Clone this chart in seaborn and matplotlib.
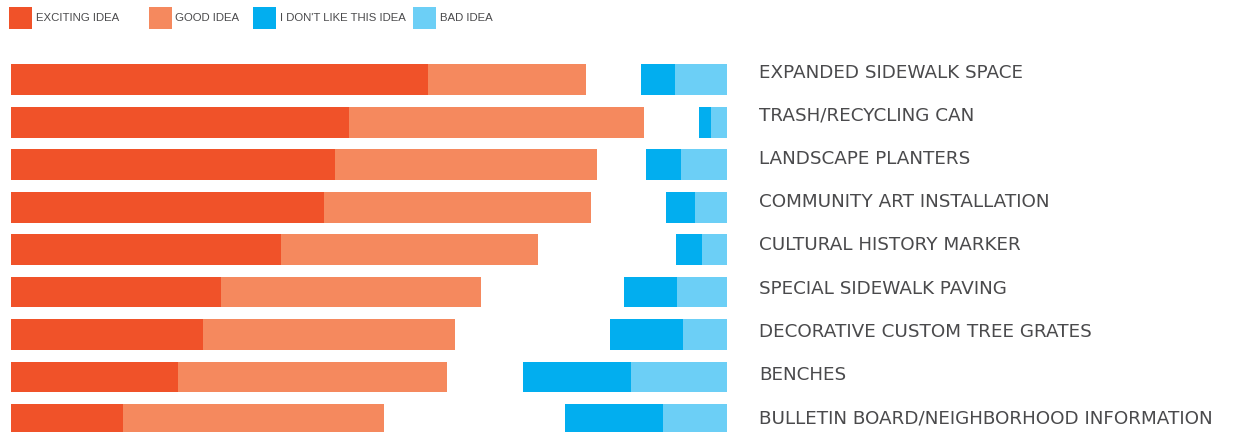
import matplotlib
matplotlib.use("Agg")
import matplotlib.pyplot as plt
import seaborn as sns
from matplotlib.patches import Rectangle
from matplotlib import font_manager

categories = [
    "EXPANDED SIDEWALK SPACE",
    "TRASH/RECYCLING CAN",
    "LANDSCAPE PLANTERS",
    "COMMUNITY ART INSTALLATION",
    "CULTURAL HISTORY MARKER",
    "SPECIAL SIDEWALK PAVING",
    "DECORATIVE CUSTOM TREE GRATES",
    "BENCHES",
    "BULLETIN BOARD/NEIGHBORHOOD INFORMATION",
]
exciting = [63.2, 51.2, 49.1, 47.4, 40.9, 31.8, 29.1, 25.3, 17.0]
good = [23.9, 44.7, 39.7, 40.5, 38.9, 39.4, 38.2, 40.8, 39.5]
dislike = [5.2, 1.8, 5.3, 4.4, 3.9, 8.0, 11.1, 16.4, 14.8]
bad = [7.9, 2.4, 7.0, 4.8, 3.8, 7.6, 6.7, 14.5, 9.7]
legend_labels = ["EXCITING IDEA", "GOOD IDEA", "I DON'T LIKE THIS IDEA", "BAD IDEA"]

C_EXC = "#F05229"
C_GOOD = "#F5895E"
C_DIS = "#02AEEF"
C_BAD = "#6CCFF6"
C_TXT = "#4A4A4C"

W, H = 1241, 432
XMAX = 108.5
sns.set_theme(style="white")

fig = plt.figure(figsize=(W / 100, H / 100), dpi=100)
ax = fig.add_axes([11 / W, 0, 716 / W, 1])
ax2 = ax.twiny()

left_total = [e + g for e, g in zip(exciting, good)]
right_total = [d + b for d, b in zip(dislike, bad)]
bw = 31 / 42.5

sns.barplot(x=left_total, y=categories, orient="h", color=C_GOOD, saturation=1,
            width=bw, linewidth=0, ax=ax)
sns.barplot(x=exciting, y=categories, orient="h", color=C_EXC, saturation=1,
            width=bw, linewidth=0, ax=ax)
sns.barplot(x=right_total, y=categories, orient="h", color=C_DIS, saturation=1,
            width=bw, linewidth=0, ax=ax2)
sns.barplot(x=bad, y=categories, orient="h", color=C_BAD, saturation=1,
            width=bw, linewidth=0, ax=ax2)

ax.set_xlim(0, XMAX)
ax2.set_xlim(XMAX, 0)
top = -79.5 / 42.5
bottom = 8 + (H - 419.5) / 42.5
ax.set_ylim(bottom, top)
for a in (ax, ax2):
    a.set_xticks([])
    a.set_yticks([])
    a.set_xlabel("")
    a.set_ylabel("")
    for s in a.spines.values():
        s.set_visible(False)
    a.patch.set_alpha(0)

# category labels
lab = fig.add_axes([759 / W, 0, 0.3, 1])
lab.axis("off")
lab.set_xlim(0, 1)
pitch = 43.25
lab.set_ylim(8 + (H - 423.5) / pitch, -77.5 / pitch)
for i, c in enumerate(categories):
    lab.text(0, i, c, ha="left", va="baseline", fontsize=13.2,
             family="DejaVu Sans", color=C_TXT)

# legend
sq_x = [9, 149, 253, 413]
tx_x = [36, 175, 280, 440]
cols = [C_EXC, C_GOOD, C_DIS, C_BAD]
for sx, tx, col, l in zip(sq_x, tx_x, cols, legend_labels):
    fig.add_artist(Rectangle((sx / W, 1 - 29 / H), 23 / W, 22 / H,
                             transform=fig.transFigure, color=col, lw=0))
    fig.text(tx / W, 1 - 21 / H, l, ha="left", va="baseline", fontsize=8.2,
             family="Liberation Sans", color=C_TXT)

fig.savefig("out.png", dpi=100, facecolor="white")
